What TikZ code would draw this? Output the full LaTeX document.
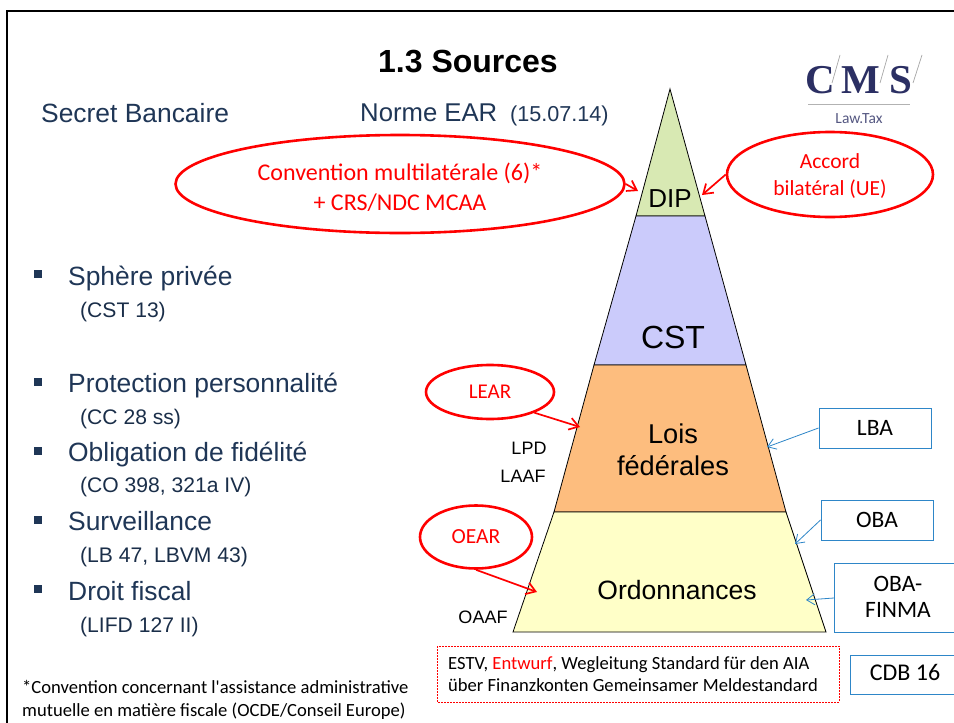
\documentclass[tikz,border=0pt]{standalone}
\usepackage{fontspec}
\setmainfont{Liberation Sans}
\newfontfamily\calb{Carlito}
\newfontfamily\serifb{Liberation Serif}
\usetikzlibrary{arrows.meta,shapes.geometric}
\definecolor{navy}{HTML}{1F3656}
\definecolor{logoblue}{HTML}{2B2F63}
\definecolor{boxblue}{HTML}{2E86C8}
\definecolor{dipg}{HTML}{D8E9B3}
\definecolor{cstb}{HTML}{CBCBFB}
\definecolor{loio}{HTML}{FDBD7E}
\definecolor{ordy}{HTML}{FFFFC8}
\newcommand{\fs}[1]{\fontsize{#1}{#1}\selectfont}
\tikzset{
  x=1pt,y=-1pt,
  tier/.style={draw=black,line width=0.8pt},
  tierlabel/.style={align=center,text=black,inner sep=0pt},
  redell/.style={draw=red,line width=2.6pt,shape=ellipse,fill=white,inner sep=0pt,text=red,font=\calb\fs{21.5},align=center},
  redline/.style={anchor=base,inner sep=0pt,text=red,font=\calb\fs{21.5}},
  bluebox/.style={draw=boxblue,line width=1pt,fill=white},
  boxtxt/.style={text=black,font=\calb\fs{23.5},align=center,inner sep=0pt},
  redarrow/.style={draw=red,line width=1.7pt,-{Straight Barb[length=9pt,width=12pt]}},
  bluearrow/.style={draw=boxblue,line width=0.8pt,-{Straight Barb[length=8pt,width=11pt]}},
  lefthead/.style={anchor=base west,text=navy,font=\fs{26.4},inner sep=0pt},
  leftsub/.style={anchor=base west,text=navy!85!black,font=\fs{21.1},inner sep=0pt},
  bulletmark/.style={fill=navy,inner sep=0pt,minimum size=8pt},
  sidelab/.style={anchor=base,text=black,font=\fs{18},inner sep=0pt}
}
\begin{document}
\begin{tikzpicture}
\useasboundingbox (0,0) rectangle (954,723);
\fill[white] (0,0) rectangle (954,723);
% frame
\draw[line width=2.6pt] (7,723) -- (7,11) -- (954,11);
% title
\node[inner sep=0pt,anchor=base,font=\bfseries\fs{32}] (title) at (468,72) {1.3 Sources};
% logo
\node[anchor=base,inner sep=0pt,text=logoblue,font=\serifb\bfseries\fs{41}] (logoc) at (820,93) {C};
\node[anchor=base,inner sep=0pt,text=logoblue,font=\serifb\bfseries\fs{41}] (logom) at (861,93) {M};
\node[anchor=base,inner sep=0pt,text=logoblue,font=\serifb\bfseries\fs{41}] (logos) at (901,93) {S};
\draw[gray!70,line width=0.7pt] (832,83) -- (840,55);
\draw[gray!70,line width=0.7pt] (880,83) -- (888,55);
\draw[gray!70,line width=0.7pt] (913,83) -- (922,55);
\draw[gray!60,line width=1pt] (808,104) -- (910,104);
\node[anchor=base,inner sep=0pt,text=logoblue!80,font=\calb\fs{15.5}] (logot) at (859,123) {Law.Tax};
% column heads
\node[lefthead] (secret) at (41,122) {Secret Bancaire};
\node[anchor=base west,inner sep=0pt,text=navy,font=\fs{25.7}] (norme) at (360,121) {Norme EAR};
\node[anchor=base west,inner sep=0pt,text=navy,font=\fs{21.6}] (normedate) at (510,121) {(15.07.14)};
% pyramid
\draw[tier,fill=dipg] (670,89) -- (705,216) -- (636,216) -- cycle;
\draw[tier,fill=cstb] (636,216) -- (705,216) -- (746,365) -- (594,365) -- cycle;
\draw[tier,fill=loio] (594,365) -- (746,365) -- (786,512) -- (554,512) -- cycle;
\draw[tier,fill=ordy] (554,512) -- (786,512) -- (826,632) -- (513,632) -- cycle;
\node[tierlabel,font=\fs{26}] (dip) at (670,199) {DIP};
\node[tierlabel,font=\fs{32}] (cst) at (673,337) {CST};
\node[tierlabel,font=\fs{27.2}] (lois) at (673,454) {\strut Lois\\[2.5pt]\strut fédérales};
\node[tierlabel,font=\fs{26.5}] (ord) at (677,590) {Ordonnances};
\coordinate (dipl) at (638,191);
\coordinate (dipr) at (702,195);
\coordinate (loisl) at (580,427);
\coordinate (loisr) at (767,447);
\coordinate (ordl) at (537,592);
\coordinate (ordr) at (795,544);
\coordinate (ordr2) at (806,600);
% ellipses
\node[redell,minimum width=449pt,minimum height=98pt] (conv) at (400,184) {};
\node[redline,font=\calb\fs{24}] (conv1) at (400,180) {Convention multilatérale (6)*};
\node[redline,font=\calb\fs{24}] (conv2) at (400,210) {+ CRS/NDC MCAA};
\node[redell,minimum width=206pt,minimum height=85pt] (acc) at (830,174.5) {};
\node[redline] (acc1) at (830,168) {Accord};
\node[redline] (acc2) at (830,195) {bilatéral (UE)};
\node[redell,minimum width=128pt,minimum height=54pt,font=\calb\fs{21}] (lear) at (490,392) {LEAR};
\node[redell,minimum width=112pt,minimum height=63pt] (oear) at (476,537) {OEAR};
\draw[redarrow] (conv.east) -- (dipl);
\draw[redarrow] (acc.west) -- (dipr);
\draw[redarrow] (lear.-25) -- (loisl);
\draw[redarrow] (oear.south) -- (ordl);
% side labels
\node[sidelab] (lpd) at (529,454) {LPD};
\node[sidelab] (laaf) at (523,482) {LAAF};
\node[sidelab] (oaaf) at (483,623) {OAAF};
% blue boxes
\node[bluebox,minimum width=112pt,minimum height=40pt,inner sep=0pt,boxtxt] (lba) at (875,428) {LBA};
\node[bluebox,minimum width=112pt,minimum height=40pt,inner sep=0pt,boxtxt] (oba) at (877,520) {OBA};
\draw[bluebox] (954.5,563) -- (834,563) -- (834,632) -- (954.5,632);
\node[boxtxt] (finma) at (898,597) {OBA-\\[3pt]FINMA};
\draw[bluebox] (954.5,655) -- (850,655) -- (850,694) -- (954.5,694);
\node[boxtxt,font=\calb\fs{24}] (cdb) at (905,672) {CDB 16};
\coordinate (finmas) at (834,598);
\draw[bluearrow] (lba.west) -- (loisr);
\draw[bluearrow] (oba.west) -- (ordr);
\draw[bluearrow] (finmas) -- (ordr2);
% dashed box
\draw[draw=red,line width=0.7pt,dash pattern=on 2pt off 1pt] (437,646) rectangle (839,702);
\node[anchor=base west,inner sep=0pt,font=\calb\fs{18.6}] (estv) at (448,669) {ESTV, \textcolor{red}{Entwurf}, Wegleitung Standard für den AIA};
\node[anchor=base west,inner sep=0pt,font=\calb\fs{18.6}] (ueber) at (448,691) {über Finanzkonten Gemeinsamer Meldestandard};
% left list
\node[bulletmark] (b1) at (38,274) {};
\node[lefthead] (h1) at (68,285) {Sphère privée};
\node[leftsub] (s1) at (80,317) {(CST 13)};
\node[bulletmark] (b2) at (38,382) {};
\node[lefthead] (h2) at (68,392) {Protection personnalité};
\node[leftsub] (s2) at (80,424) {(CC 28 ss)};
\node[bulletmark] (b3) at (38,451) {};
\node[lefthead] (h3) at (68,461) {Obligation de fidélité};
\node[leftsub] (s3) at (80,492) {(CO 398, 321a IV)};
\node[bulletmark] (b4) at (38,520) {};
\node[lefthead] (h4) at (68,530) {Surveillance};
\node[leftsub] (s4) at (80,562) {(LB 47, LBVM 43)};
\node[bulletmark] (b5) at (38,589) {};
\node[lefthead] (h5) at (68,600) {Droit fiscal};
\node[leftsub] (s5) at (80,632) {(LIFD 127 II)};
% footnote
\node[anchor=base west,inner sep=0pt,font=\calb\fs{18.6},text=black] (f1) at (22,693) {*Convention concernant l'assistance administrative};
\node[anchor=base west,inner sep=0pt,font=\calb\fs{18.6},text=black] (f2) at (22,716) {mutuelle en matière fiscale (OCDE/Conseil Europe)};
\end{tikzpicture}
\end{document}
